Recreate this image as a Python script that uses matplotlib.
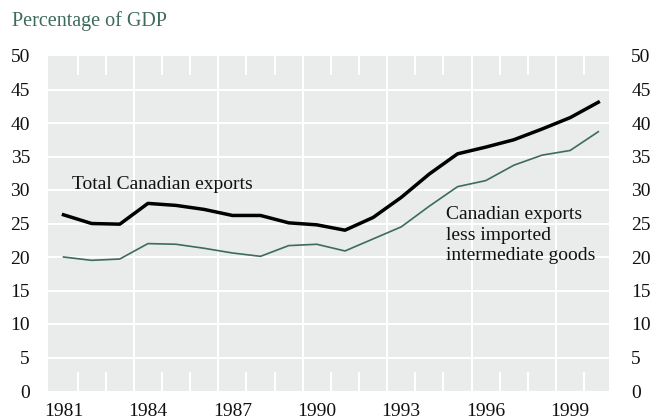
import matplotlib
matplotlib.use("Agg")
import matplotlib.pyplot as plt

years = list(range(1981, 2001))
total_exports = [26.3, 25.0, 24.9, 28.0, 27.7, 27.1, 26.2, 26.2, 25.1, 24.8,
                 24.0, 25.9, 28.9, 32.4, 35.4, 36.4, 37.5, 39.1, 40.8, 43.1]
net_exports = [20.0, 19.5, 19.7, 22.0, 21.9, 21.3, 20.6, 20.1, 21.7, 21.9,
               20.9, 22.7, 24.5, 27.6, 30.5, 31.4, 33.7, 35.2, 35.9, 38.7]
label_years = list(range(1981, 2001, 3))
y_ticks = list(range(0, 51, 5))

GREEN = "#3d6b5e"
BG = "#e9ecea"
FS = 14
plt.rcParams["font.family"] = ["Liberation Serif", "DejaVu Serif"]

fig = plt.figure(figsize=(6.52, 4.2), dpi=100)
ax = fig.add_axes([48 / 652, 29 / 420, 561 / 652, 335 / 420])
ax.set_facecolor(BG)
ax.set_xlim(years[0] - 0.55, years[-1] + 0.38)
ax.set_ylim(0, 50)

# white grid: horizontal every 5, vertical every 3 years, short ticks in between
for y in y_ticks[1:-1]:
    ax.axhline(y, color="white", lw=1.5, zorder=1)
for yr in years[:-1]:
    x = yr + 0.5
    if (yr - years[0]) % 3 == 2:
        ax.axvline(x, color="white", lw=1.5, zorder=1)
    else:
        ax.vlines(x, 0, 2.9, color="white", lw=1.5, zorder=1)
        ax.vlines(x, 47.1, 50, color="white", lw=1.5, zorder=1)

ax.plot(years, net_exports, color=GREEN, lw=1.2, zorder=3)
ax.plot(years, total_exports, color="black", lw=2.5, zorder=4)

ax.set_xticks(label_years)
ax.set_yticks(y_ticks)
ax.tick_params(axis="both", length=0, labelsize=FS, colors="#111111")
ax.tick_params(axis="y", pad=13)
ax.tick_params(axis="x", pad=9)

ax2 = ax.twinx()
ax2.set_ylim(0, 50)
ax2.set_yticks(y_ticks)
ax2.tick_params(axis="y", length=0, labelsize=FS, colors="#111111", pad=16)

for a in (ax, ax2):
    for s in a.spines.values():
        s.set_visible(False)

ax.text(1981.32, 30.1, "Total Canadian exports", fontsize=FS,
        color="#111111", va="baseline", ha="left", zorder=5)
ax.text(1994.6, 27.6, "Canadian exports\nless imported\nintermediate goods",
        fontsize=FS, color="#111111", va="top", ha="left",
        linespacing=1.28, zorder=5)

fig.text(12 / 652, 1 - 21 / 420, "Percentage of GDP", fontsize=14.5,
         color=GREEN, va="center", ha="left")

fig.savefig("out.png", dpi=100)
